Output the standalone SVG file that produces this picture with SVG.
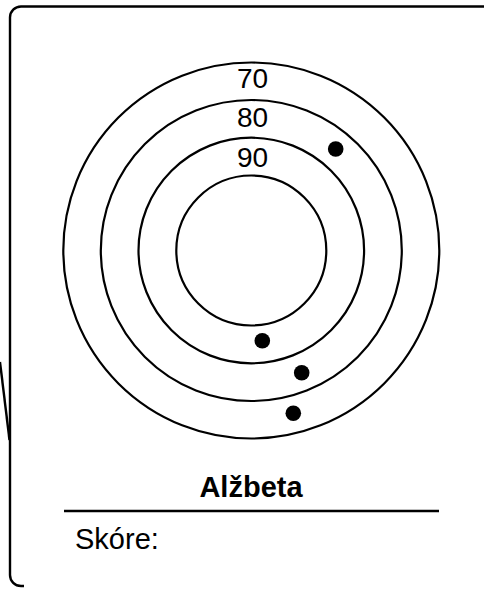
<svg xmlns="http://www.w3.org/2000/svg" width="484" height="592" viewBox="0 0 484 592">
<style>
.ln{fill:none;stroke:#000;stroke-width:2.4}
.ring{fill:none;stroke:#000;stroke-width:2.2}
.dot{fill:#000}
.lbl{font-family:"Liberation Sans",Arial,sans-serif;font-size:28px;fill:#000;text-anchor:middle}
.name{font-family:"Liberation Sans",Arial,sans-serif;font-size:29px;font-weight:bold;fill:#000;text-anchor:middle}
.score{font-family:"Liberation Sans",Arial,sans-serif;font-size:29px;fill:#000}
</style>
<rect width="484" height="592" fill="#fff"/>
<g id="frame">
<path class="ln" d="M484,6.5 H21 A11,11 0 0 0 10,17.5 V575 A11,11 0 0 0 21,586 H24"/>
<line class="ln" x1="0" y1="362" x2="9.5" y2="440"/>
</g>
<g id="target">
<circle class="ring" cx="251.3" cy="250.5" r="188"/>
<circle class="ring" cx="251.3" cy="250.5" r="150.5"/>
<circle class="ring" cx="251.3" cy="250.5" r="112.8"/>
<circle class="ring" cx="251.3" cy="250.5" r="75"/>
<text class="lbl" x="252.5" y="88.3">70</text>
<text class="lbl" x="252.5" y="127.3">80</text>
<text class="lbl" x="252.5" y="166.5">90</text>
</g>
<g id="hits">
<circle class="dot" cx="335.7" cy="149" r="7.8"/>
<circle class="dot" cx="262.3" cy="340.7" r="7.8"/>
<circle class="dot" cx="301.7" cy="372.7" r="7.8"/>
<circle class="dot" cx="293.3" cy="413.3" r="7.8"/>
</g>
<g id="label">
<text class="name" x="251" y="497">Alžbeta</text>
<line class="ln" x1="64" y1="511" x2="439" y2="511"/>
<text class="score" x="75" y="548.5">Skóre:</text>
</g>
</svg>
